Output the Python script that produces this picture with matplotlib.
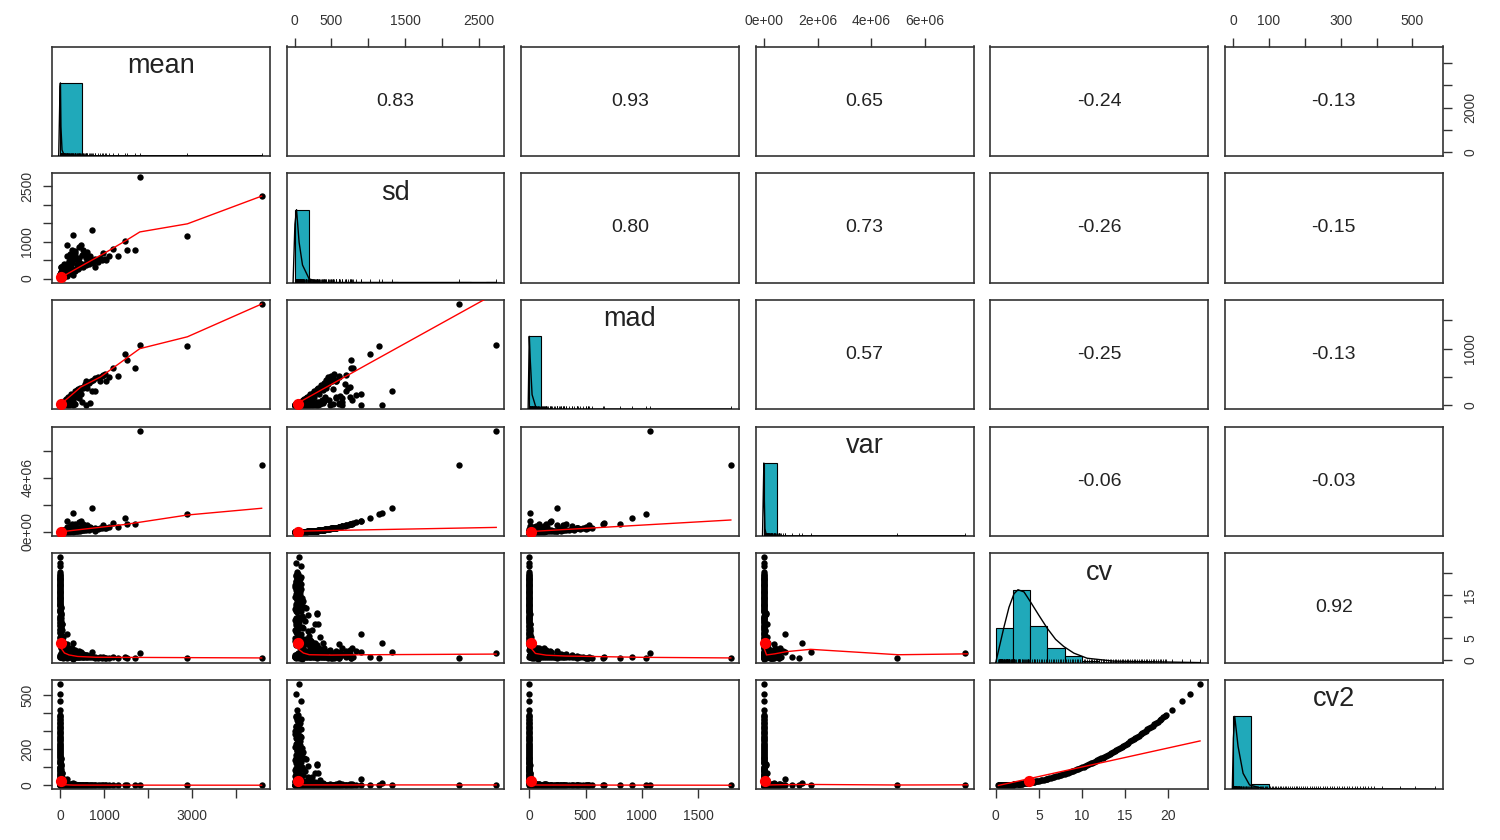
import numpy as np
import matplotlib
matplotlib.use('Agg')
import matplotlib.pyplot as plt

plt.rcParams['font.family'] = ['Liberation Sans', 'DejaVu Sans']

var_names = ['mean', 'sd', 'mad', 'var', 'cv', 'cv2']

# ---- observations (outliers, bulk, extra bulk, spread, high-cv A, high-cv B) ----
mean_vals = [1810, 4574, 2890, 719, 304, 1483, 1528, 1694, 1324, 1202, 1052, 975, 152, 469, 420, 330,
             2, 4, 6, 9, 12, 15, 20, 25, 30, 35, 42, 50, 58, 65, 75, 85, 95, 105, 120, 130,
             145, 160, 175, 190, 205, 220, 240, 255, 270, 290, 310, 330, 350, 370, 390, 410, 440, 460, 490, 520,
             550, 580, 620, 660, 700, 740, 800, 850, 900, 960, 1030, 1100, 560, 620, 430, 500, 330, 600, 200, 680,
             40, 60, 70, 90, 110, 160, 50, 25, 300, 150, 800, 60,
             230, 280, 350, 400, 520, 600, 450, 380, 250, 180, 140, 100, 75, 55, 35,
             45, 80, 120, 70, 100, 85, 150, 200, 260, 30,
             30.0, 5.88, 39.5, 10.7, 45.7, 2.4, 63.5, 12.1, 4.84, 27.3, 1.14, 16.2, 7.05, 39.0, 2.91, 15.6,
             7.45, 1.53, 9.8, 28.3, 3.64, 7.46, 0.85, 10.7, 3.97, 1.54, 7.09, 2.54, 4.58, 0.82, 5.33, 1.82,
             3.48, 1.11, 4.22, 2.35, 0.52, 3.37, 1.37, 4.03, 1.84, 0.72, 2.53, 1.47, 3.94, 0.89, 2.62,
             34.4, 16.7, 62.5, 1.14, 33.3, 6.73, 35.7, 15.0, 2.34, 35.3, 6.67, 13.2, 2.75, 33.3, 7.39, 1.2,
             12.0, 4.2, 17.3, 28.8, 2.32, 5.0, 12.5, 1.29, 5.63, 3.33, 8.82, 2.14, 7.29, 3.51, 1.32, 4.36,
             2.38, 5.61, 0.42, 2.79, 4.66, 1.33, 3.15, 2.39, 4.69, 0.82]
sd_vals = [2740, 2228, 1141, 1323, 1187, 1024, 761, 761, 598, 788, 508, 698, 897, 897, 840, 749,
           1.5, 4.4, 5.5, 7, 14, 9, 25, 18, 45, 28, 60, 38, 90, 50, 130, 62, 180, 75, 240, 95,
           300, 110, 370, 130, 420, 150, 470, 170, 560, 190, 230, 210, 620, 250, 290, 270, 330, 300, 370, 320,
           400, 360, 450, 400, 500, 430, 520, 460, 560, 500, 540, 600, 680, 720, 560, 640, 520, 650, 480, 600,
           160, 200, 280, 270, 290, 600, 220, 120, 95, 55, 300, 25,
           650, 780, 700, 520, 760, 560, 430, 380, 330, 270, 200, 150, 100, 70, 40,
           120, 210, 330, 150, 380, 300, 400, 250, 420, 80,
           90, 20, 150, 45, 210, 12, 343, 70, 30, 180, 8, 120, 55, 320, 25, 140,
           70, 15, 100, 300, 40, 85, 10, 130, 50, 20, 95, 35, 65, 12, 80, 28,
           55, 18, 70, 40, 9, 60, 25, 75, 35, 14, 50, 30, 85, 20, 62,
           110, 60, 250, 5, 160, 35, 200, 90, 15, 240, 48, 100, 22, 280, 65, 11,
           115, 42, 180, 311, 26, 58, 150, 16, 72, 44, 120, 30, 105, 52, 20, 68,
           38, 92, 7, 48, 82, 24, 58, 45, 90, 16]
mad_vals = [1072, 1791, 1040, 247, 10, 913, 806, 654, 523, 664, 424, 530, 10, 190, 180, 150,
            1.0, 2.2, 3.0, 5.5, 6, 8, 10, 15, 12, 22, 20, 30, 25, 40, 35, 55, 50, 62, 70, 80,
            60, 95, 90, 110, 120, 130, 100, 150, 140, 170, 180, 200, 160, 220, 230, 250, 260, 280, 300, 310,
            330, 350, 380, 400, 420, 450, 480, 500, 430, 520, 560, 500, 380, 300, 120, 60, 20, 5, 0, 40,
            5, 8, 15, 20, 30, 25, 3, 2, 80, 45, 250, 20,
            130, 90, 250, 280, 330, 420, 310, 270, 190, 140, 110, 80, 55, 40, 28,
            10, 40, 60, 20, 30, 25, 70, 150, 150, 5,
            6, 1, 10, 2, 12, 0, 15, 2, 0, 5, 0, 3, 0, 6, 0, 2,
            0, 0, 0, 4, 0, 0, 0, 0, 0, 0, 0, 0, 0, 0, 0, 0,
            0, 0, 0, 0, 0, 0, 0, 0, 0, 0, 0, 0, 0, 0, 0,
            8, 3, 10, 0, 4, 0, 5, 2, 0, 3, 0, 1, 0, 3, 0, 0,
            0, 0, 0, 0, 0, 0, 0, 0, 0, 0, 0, 0, 0, 0, 0, 0,
            0, 0, 0, 0, 0, 0, 0, 0, 0, 0]
var_vals = [7507600, 4963984, 1301881, 1750329, 1408969, 1048576, 579121, 579121, 357604, 620944, 258064,
            487204, 804609, 804609, 705600, 561001,
            2.25, 19.36, 30.25, 49, 196, 81, 625, 324, 2025, 784, 3600, 1444, 8100, 2500, 16900, 3844,
            32400, 5625, 57600, 9025, 90000, 12100, 136900, 16900, 176400, 22500, 220900, 28900, 313600, 36100,
            52900, 44100, 384400, 62500, 84100, 72900, 108900, 90000, 136900, 102400, 160000, 129600, 202500,
            160000, 250000, 184900, 270400, 211600, 313600, 250000, 291600, 360000, 462400, 518400, 313600,
            409600, 270400, 422500, 230400, 360000, 25600, 40000, 78400, 72900, 84100, 360000, 48400, 14400,
            9025, 3025, 90000, 625,
            422500, 608400, 490000, 270400, 577600, 313600, 184900, 144400, 108900, 72900, 40000, 22500,
            10000, 4900, 1600,
            14400, 44100, 108900, 22500, 144400, 90000, 160000, 62500, 176400, 6400,
            8100, 400, 22500, 2025, 44100, 144, 117649, 4900, 900, 32400, 64, 14400, 3025, 102400, 625, 19600,
            4900, 225, 10000, 90000, 1600, 7225, 100, 16900, 2500, 400, 9025, 1225, 4225, 144, 6400, 784,
            3025, 324, 4900, 1600, 81, 3600, 625, 5625, 1225, 196, 2500, 900, 7225, 400, 3844,
            12100, 3600, 62500, 25, 25600, 1225, 40000, 8100, 225, 57600, 2304, 10000, 484, 78400, 4225, 121,
            13225, 1764, 32400, 96721, 676, 3364, 22500, 256, 5184, 1936, 14400, 900, 11025, 2704, 400, 4624,
            1444, 8464, 49, 2304, 6724, 576, 3364, 2025, 8100, 256]
cv_vals = [1.514, 0.487, 0.395, 1.840, 3.905, 0.690, 0.498, 0.449, 0.452, 0.656, 0.483, 0.716, 5.901,
           1.913, 2.000, 2.270,
           0.75, 1.1, 0.917, 0.778, 1.167, 0.6, 1.25, 0.72, 1.5, 0.8, 1.429, 0.76, 1.552, 0.769, 1.733, 0.729,
           1.895, 0.714, 2.0, 0.731, 2.069, 0.688, 2.114, 0.684, 2.049, 0.682, 1.958, 0.667, 2.074, 0.655,
           0.742, 0.636, 1.771, 0.676, 0.744, 0.659, 0.75, 0.652, 0.755, 0.615, 0.727, 0.621, 0.726, 0.606,
           0.714, 0.581, 0.65, 0.541, 0.622, 0.521, 0.524, 0.545, 1.214, 1.161, 1.302, 1.28, 1.576, 1.083,
           2.4, 0.882, 4.0, 3.333, 4.0, 3.0, 2.636, 3.75, 4.4, 4.8, 0.317, 0.367, 0.375, 0.417,
           2.826, 2.786, 2.0, 1.3, 1.462, 0.933, 0.956, 1.0, 1.32, 1.5, 1.429, 1.5, 1.333, 1.273, 1.143,
           2.667, 2.625, 2.75, 2.143, 3.8, 3.529, 2.667, 1.25, 1.615, 2.667,
           3.0, 3.4, 3.8, 4.2, 4.6, 5.0, 5.4, 5.8, 6.2, 6.6, 7.0, 7.4, 7.8, 8.2, 8.6, 9.0,
           9.4, 9.8, 10.2, 10.6, 11.0, 11.4, 11.8, 12.2, 12.6, 13.0, 13.4, 13.8, 14.2, 14.6, 15.0, 15.4,
           15.8, 16.2, 16.6, 17.0, 17.4, 17.8, 18.2, 18.6, 19.0, 19.4, 19.8, 20.4, 21.6, 22.5, 23.7,
           3.2, 3.6, 4.0, 4.4, 4.8, 5.2, 5.6, 6.0, 6.4, 6.8, 7.2, 7.6, 8.0, 8.4, 8.8, 9.2,
           9.6, 10.0, 10.4, 10.8, 11.2, 11.6, 12.0, 12.4, 12.8, 13.2, 13.6, 14.0, 14.4, 14.8, 15.2, 15.6,
           16.0, 16.4, 16.8, 17.2, 17.6, 18.0, 18.4, 18.8, 19.2, 19.6]
cv2_vals = [2.292, 0.237, 0.156, 3.386, 15.25, 0.477, 0.248, 0.202, 0.204, 0.430, 0.233, 0.513, 34.82,
            3.658, 4.0, 5.152,
            0.5625, 1.21, 0.84, 0.605, 1.36, 0.36, 1.5625, 0.518, 2.25, 0.64, 2.04, 0.578, 2.41, 0.592, 3.0,
            0.532, 3.59, 0.51, 4.0, 0.534, 4.28, 0.473, 4.47, 0.468, 4.20, 0.465, 3.83, 0.444, 4.30, 0.429,
            0.551, 0.405, 3.14, 0.457, 0.553, 0.434, 0.5625, 0.425, 0.570, 0.379, 0.529, 0.385, 0.527, 0.367,
            0.510, 0.338, 0.4225, 0.293, 0.387, 0.271, 0.275, 0.298, 1.474, 1.349, 1.696, 1.638, 2.483,
            1.174, 5.76, 0.779, 16.0, 11.11, 16.0, 9.0, 6.95, 14.06, 19.36, 23.04, 0.1, 0.134, 0.141, 0.174,
            7.99, 7.76, 4.0, 1.69, 2.137, 0.871, 0.913, 1.0, 1.742, 2.25, 2.041, 2.25, 1.778, 1.620, 1.306,
            7.11, 6.89, 7.56, 4.59, 14.44, 12.46, 7.11, 1.5625, 2.609, 7.11,
            9.0, 11.56, 14.44, 17.64, 21.16, 25.0, 29.16, 33.64, 38.44, 43.56, 49.0, 54.76, 60.84, 67.24,
            73.96, 81.0, 88.36, 96.04, 104.04, 112.36, 121.0, 129.96, 139.24, 148.84, 158.76, 169.0, 179.56,
            190.44, 201.64, 213.16, 225.0, 237.16, 249.64, 262.44, 275.56, 289.0, 302.76, 316.84, 331.24,
            345.96, 361.0, 376.36, 392.04, 416.16, 466.56, 506.25, 561.69,
            10.24, 12.96, 16.0, 19.36, 23.04, 27.04, 31.36, 36.0, 40.96, 46.24, 51.84, 57.76, 64.0, 70.56,
            77.44, 84.64, 92.16, 100.0, 108.16, 116.64, 125.44, 134.56, 144.0, 153.76, 163.84, 174.24,
            184.96, 196.0, 207.36, 219.04, 231.04, 243.36, 256.0, 268.96, 282.24, 295.84, 309.76, 324.0,
            338.56, 353.44, 368.64, 384.16]

# ---- correlations shown in upper panels (row-major) ----
cor_row1 = ['0.83', '0.93', '0.65', '-0.24', '-0.13']
cor_row2 = ['0.80', '0.73', '-0.26', '-0.15']
cor_row3 = ['0.57', '-0.25', '-0.13']
cor_row4 = ['-0.06', '-0.03']
cor_row5 = ['0.92']

# ---- histograms on the diagonal ----
mean_hist_edges = [0, 500, 1000, 1500, 2000, 2500, 3000, 3500, 4000, 4500, 5000]
mean_hist_counts = [14900, 22, 8, 3, 0, 1, 1, 0, 0, 1]
sd_hist_edges = [0, 200, 400, 600, 800, 1000, 1200, 1400, 1600, 1800, 2000, 2200, 2400, 2600, 2800]
sd_hist_counts = [14900, 45, 12, 6, 5, 2, 1, 0, 0, 0, 0, 1, 0, 1]
mad_hist_edges = [0, 100, 200, 300, 400, 500, 600, 700, 800, 900, 1000, 1100, 1200, 1300, 1400, 1500,
                  1600, 1700, 1800]
mad_hist_counts = [14950, 40, 15, 6, 4, 3, 2, 1, 1, 1, 2, 0, 0, 0, 0, 0, 0, 1]
var_hist_edges = [0, 5e5, 1e6, 1.5e6, 2e6, 2.5e6, 3e6, 3.5e6, 4e6, 4.5e6, 5e6, 5.5e6, 6e6, 6.5e6, 7e6,
                  7.5e6, 8e6]
var_hist_counts = [14980, 10, 4, 3, 0, 0, 0, 0, 0, 1, 0, 0, 0, 0, 0, 1]
cv_hist_edges = [0, 2, 4, 6, 8, 10, 12, 14, 16, 18, 20, 22, 24]
cv_hist_counts = [3050, 6500, 3250, 1275, 590, 100, 35, 18, 10, 6, 4, 3]
cv2_hist_edges = [0, 50, 100, 150, 200, 250, 300, 350, 400, 450, 500, 550, 600]
cv2_hist_counts = [13950, 960, 170, 60, 25, 12, 7, 4, 3, 2, 1, 1]

# ---- density curves (scaled to max 1) ----
mean_dens_x = [-30, 0, 8, 20, 45, 100, 4574]
mean_dens_y = [0, 0.95, 1.0, 0.4, 0.08, 0, 0]
sd_dens_x = [-20, 5, 27, 62, 108, 198, 350, 2740]
sd_dens_y = [0, 0.8, 1.0, 0.55, 0.24, 0.05, 0, 0]
mad_dens_x = [-10, 0, 8, 25, 60, 200, 1791]
mad_dens_y = [0, 1.0, 0.7, 0.2, 0.02, 0, 0]
var_dens_x = [-5e4, 0, 1e4, 4e4, 1e5, 7.5e6]
var_dens_y = [0, 1.0, 0.6, 0.1, 0, 0]
cv_dens_x = [0.0, 0.96, 1.54, 2.12, 2.58, 3.28, 4.05, 5.0, 5.98, 6.94, 7.9, 9.06, 10.6, 13.7, 23.7]
cv_dens_y = [0.0, 0.49, 0.76, 0.945, 1.0, 0.97, 0.83, 0.65, 0.47, 0.32, 0.22, 0.13, 0.06, 0.02, 0.0]
cv2_dens_x = [-2, 1, 4.7, 14, 28, 46, 83, 562]
cv2_dens_y = [0, 0.7, 1.0, 0.59, 0.22, 0.06, 0.01, 0]

# ---- variable means (ellipse centres) ----
center_vals = [20, 45, 12, 2.5e4, 3.9, 25]

# ---- smoothed (lowess) lines for lower panels: y-variable vs x-variable ----
sm_sd_mean_x = [0, 500, 1000, 1500, 1810, 2890, 4574]
sm_sd_mean_y = [15, 350, 680, 1030, 1260, 1480, 2230]
sm_mad_mean_x = [0, 470, 920, 1810, 2890, 4574]
sm_mad_mean_y = [5, 320, 500, 1000, 1210, 1790]
sm_mad_sd_x = [0, 1000, 2740]
sm_mad_sd_y = [5, 730, 1985]
sm_var_mean_x = [0, 1480, 2890, 4574]
sm_var_mean_y = [0, 0.55e6, 1.25e6, 1.75e6]
sm_var_sd_x = [0, 2740]
sm_var_sd_y = [0.05e6, 0.33e6]
sm_var_mad_x = [0, 1791]
sm_var_mad_y = [0.02e6, 0.88e6]
sm_cv_mean_x = [0, 30, 100, 205, 400, 810, 4574]
sm_cv_mean_y = [3.3, 2.6, 1.6, 1.15, 0.8, 0.62, 0.46]
sm_cv_sd_x = [15, 60, 120, 200, 500, 1000, 2740]
sm_cv_sd_y = [3.8, 2.4, 1.6, 1.2, 1.12, 1.2, 1.35]
sm_cv_mad_x = [0, 20, 55, 150, 320, 1000, 1791]
sm_cv_mad_y = [4.0, 2.6, 1.5, 1.1, 0.9, 0.6, 0.46]
sm_cv_var_x = [0, 0.02e6, 0.1e6, 0.4e6, 0.85e6, 1.74e6, 5.0e6, 7.58e6]
sm_cv_var_y = [4.0, 2.5, 1.15, 1.4, 1.92, 2.45, 1.2, 1.4]
sm_cv2_mean_x = [0, 20, 100, 300, 4574]
sm_cv2_mean_y = [25, 15, 3, 1, 0.3]
sm_cv2_sd_x = [10, 50, 130, 2740]
sm_cv2_sd_y = [22, 8, 2, 1.8]
sm_cv2_mad_x = [0, 25, 60, 1791]
sm_cv2_mad_y = [25, 8, 1.5, 0.25]
sm_cv2_var_x = [0, 0.03e6, 0.1e6, 0.8e6, 1.7e6, 5.0e6, 7.58e6]
sm_cv2_var_y = [25, 8, 1.5, 3.5, 4.5, 1.5, 2.4]
sm_cv2_cv_x = [0.31, 23.7]
sm_cv2_cv_y = [-1, 246]

# ---- axis ticks / labels ----
mean_ticks = [0, 1000, 2000, 3000, 4000]
sd_ticks = [0, 500, 1000, 1500, 2000, 2500]
mad_ticks = [0, 500, 1000, 1500]
var_ticks = [0, 2e6, 4e6, 6e6]
cv_ticks = [0, 5, 10, 15, 20]
cv2_ticks = [0, 100, 200, 300, 400, 500]
top_sd_labels = ['0', '500', '', '1500', '', '2500']
top_var_labels = ['0e+00', '2e+06', '4e+06', '6e+06']
top_cv2_labels = ['0', '100', '', '300', '', '500']
bottom_mean_labels = ['0', '1000', '', '3000', '']
bottom_mad_labels = ['0', '500', '1000', '1500']
bottom_cv_labels = ['0', '5', '10', '15', '20']
left_sd_labels = ['0', '', '1000', '', '', '2500']
left_var_labels = ['0e+00', '', '4e+06', '']
left_cv2_labels = ['0', '', '200', '', '', '500']
right_mean_labels = ['0', '', '2000', '', '']
right_mad_labels = ['0', '', '1000', '']
right_cv_labels = ['0', '5', '', '15', '']

# ---------------------------------------------------------------
data = [np.array(v, dtype=float) for v in (mean_vals, sd_vals, mad_vals, var_vals, cv_vals, cv2_vals)]
hists = [(mean_hist_edges, mean_hist_counts), (sd_hist_edges, sd_hist_counts),
         (mad_hist_edges, mad_hist_counts), (var_hist_edges, var_hist_counts),
         (cv_hist_edges, cv_hist_counts), (cv2_hist_edges, cv2_hist_counts)]
dens = [(mean_dens_x, mean_dens_y), (sd_dens_x, sd_dens_y), (mad_dens_x, mad_dens_y),
        (var_dens_x, var_dens_y), (cv_dens_x, cv_dens_y), (cv2_dens_x, cv2_dens_y)]
cors = [cor_row1, cor_row2, cor_row3, cor_row4, cor_row5]
smooth = {
    (1, 0): (sm_sd_mean_x, sm_sd_mean_y),
    (2, 0): (sm_mad_mean_x, sm_mad_mean_y), (2, 1): (sm_mad_sd_x, sm_mad_sd_y),
    (3, 0): (sm_var_mean_x, sm_var_mean_y), (3, 1): (sm_var_sd_x, sm_var_sd_y),
    (3, 2): (sm_var_mad_x, sm_var_mad_y),
    (4, 0): (sm_cv_mean_x, sm_cv_mean_y), (4, 1): (sm_cv_sd_x, sm_cv_sd_y),
    (4, 2): (sm_cv_mad_x, sm_cv_mad_y), (4, 3): (sm_cv_var_x, sm_cv_var_y),
    (5, 0): (sm_cv2_mean_x, sm_cv2_mean_y), (5, 1): (sm_cv2_sd_x, sm_cv2_sd_y),
    (5, 2): (sm_cv2_mad_x, sm_cv2_mad_y), (5, 3): (sm_cv2_var_x, sm_cv2_var_y),
    (5, 4): (sm_cv2_cv_x, sm_cv2_cv_y),
}

lims = []
for d in data:
    lo, hi = d.min(), d.max()
    r = hi - lo
    lims.append((lo - 0.04 * r, hi + 0.04 * r))

W, H = 1500, 840
fig = plt.figure(figsize=(15, 8.4), dpi=100)
left0, top0, pw, ph, dx, dy = 52, 46.5, 217.7, 109.3, 234.6, 126.7
FRAME = '#333333'
HIST_COL = '#20A9BA'
TXT = '#222222'
TICKC = '#333333'

axes = [[None] * 6 for _ in range(6)]
for i in range(6):
    for j in range(6):
        l = left0 + j * dx
        t = top0 + i * dy
        ax = fig.add_axes([l / W, 1 - (t + ph) / H, pw / W, ph / H])
        axes[i][j] = ax
        for s in ax.spines.values():
            s.set_color(FRAME)
            s.set_linewidth(1.2)
        ax.set_xticks([])
        ax.set_yticks([])
        ax.set_xlim(*lims[j])
        if i == j:
            edges, counts = hists[i]
            counts = np.array(counts, dtype=float)
            hgt = counts / counts.max()
            ax.bar(edges[:-1], hgt, width=np.diff(edges), align='edge', color=HIST_COL,
                   edgecolor='black', linewidth=0.8, zorder=2)
            ax.plot(dens[i][0], dens[i][1], color='black', lw=1.0, zorder=3)
            ax.vlines(data[i], 0, 0.045, color='black', lw=0.6, zorder=4)
            ax.set_ylim(0, 1.5)
            ax.text(0.5, 1 - 26.5 / ph, var_names[i], transform=ax.transAxes, ha='center',
                    va='baseline', fontsize=19.5, color=TXT)
        elif i > j:
            ax.set_ylim(*lims[i])
            ax.scatter(data[j], data[i], s=21, c='black', linewidths=0, zorder=2)
            sx, sy = smooth[(i, j)]
            ax.plot(sx, sy, color='red', lw=1.0, zorder=3)
            ax.scatter([center_vals[j]], [center_vals[i]], s=65, c='red', linewidths=0, zorder=4)
        else:
            ax.set_ylim(*lims[i])
            ax.text(0.5, 0.5, cors[i][j - i - 1], transform=ax.transAxes, ha='center',
                    va='center', fontsize=14, color=TXT)

tick_kw = dict(length=6.2, width=1.0, color=TICKC, labelsize=10, labelcolor=TICKC, direction='out')

def top_axis(ax, ticks, labels):
    ax.set_xticks(ticks)
    ax.set_xticklabels(labels)
    ax.tick_params(axis='x', top=True, labeltop=True, bottom=False, labelbottom=False, pad=7, **tick_kw)

def bottom_axis(ax, ticks, labels):
    ax.set_xticks(ticks)
    ax.set_xticklabels(labels)
    ax.tick_params(axis='x', bottom=True, labelbottom=True, top=False, labeltop=False, pad=8, **tick_kw)

def left_axis(ax, ticks, labels):
    ax.set_yticks(ticks)
    ax.set_yticklabels(labels, rotation=90, va='center')
    ax.tick_params(axis='y', left=True, labelleft=True, right=False, labelright=False, pad=6.5, **tick_kw)

def right_axis(ax, ticks, labels):
    ax.set_yticks(ticks)
    ax.set_yticklabels(labels, rotation=90, va='center')
    ax.tick_params(axis='y', right=True, labelright=True, left=False, labelleft=False, pad=8.5, **tick_kw)

top_axis(axes[0][1], sd_ticks, top_sd_labels)
top_axis(axes[0][3], var_ticks, top_var_labels)
top_axis(axes[0][5], cv2_ticks, top_cv2_labels)
bottom_axis(axes[5][0], mean_ticks, bottom_mean_labels)
bottom_axis(axes[5][2], mad_ticks, bottom_mad_labels)
bottom_axis(axes[5][4], cv_ticks, bottom_cv_labels)
left_axis(axes[1][0], sd_ticks, left_sd_labels)
left_axis(axes[3][0], var_ticks, left_var_labels)
left_axis(axes[5][0], cv2_ticks, left_cv2_labels)
right_axis(axes[0][5], mean_ticks, right_mean_labels)
right_axis(axes[2][5], mad_ticks, right_mad_labels)
right_axis(axes[4][5], cv_ticks, right_cv_labels)

fig.savefig('out.png', dpi=100, facecolor='white')
